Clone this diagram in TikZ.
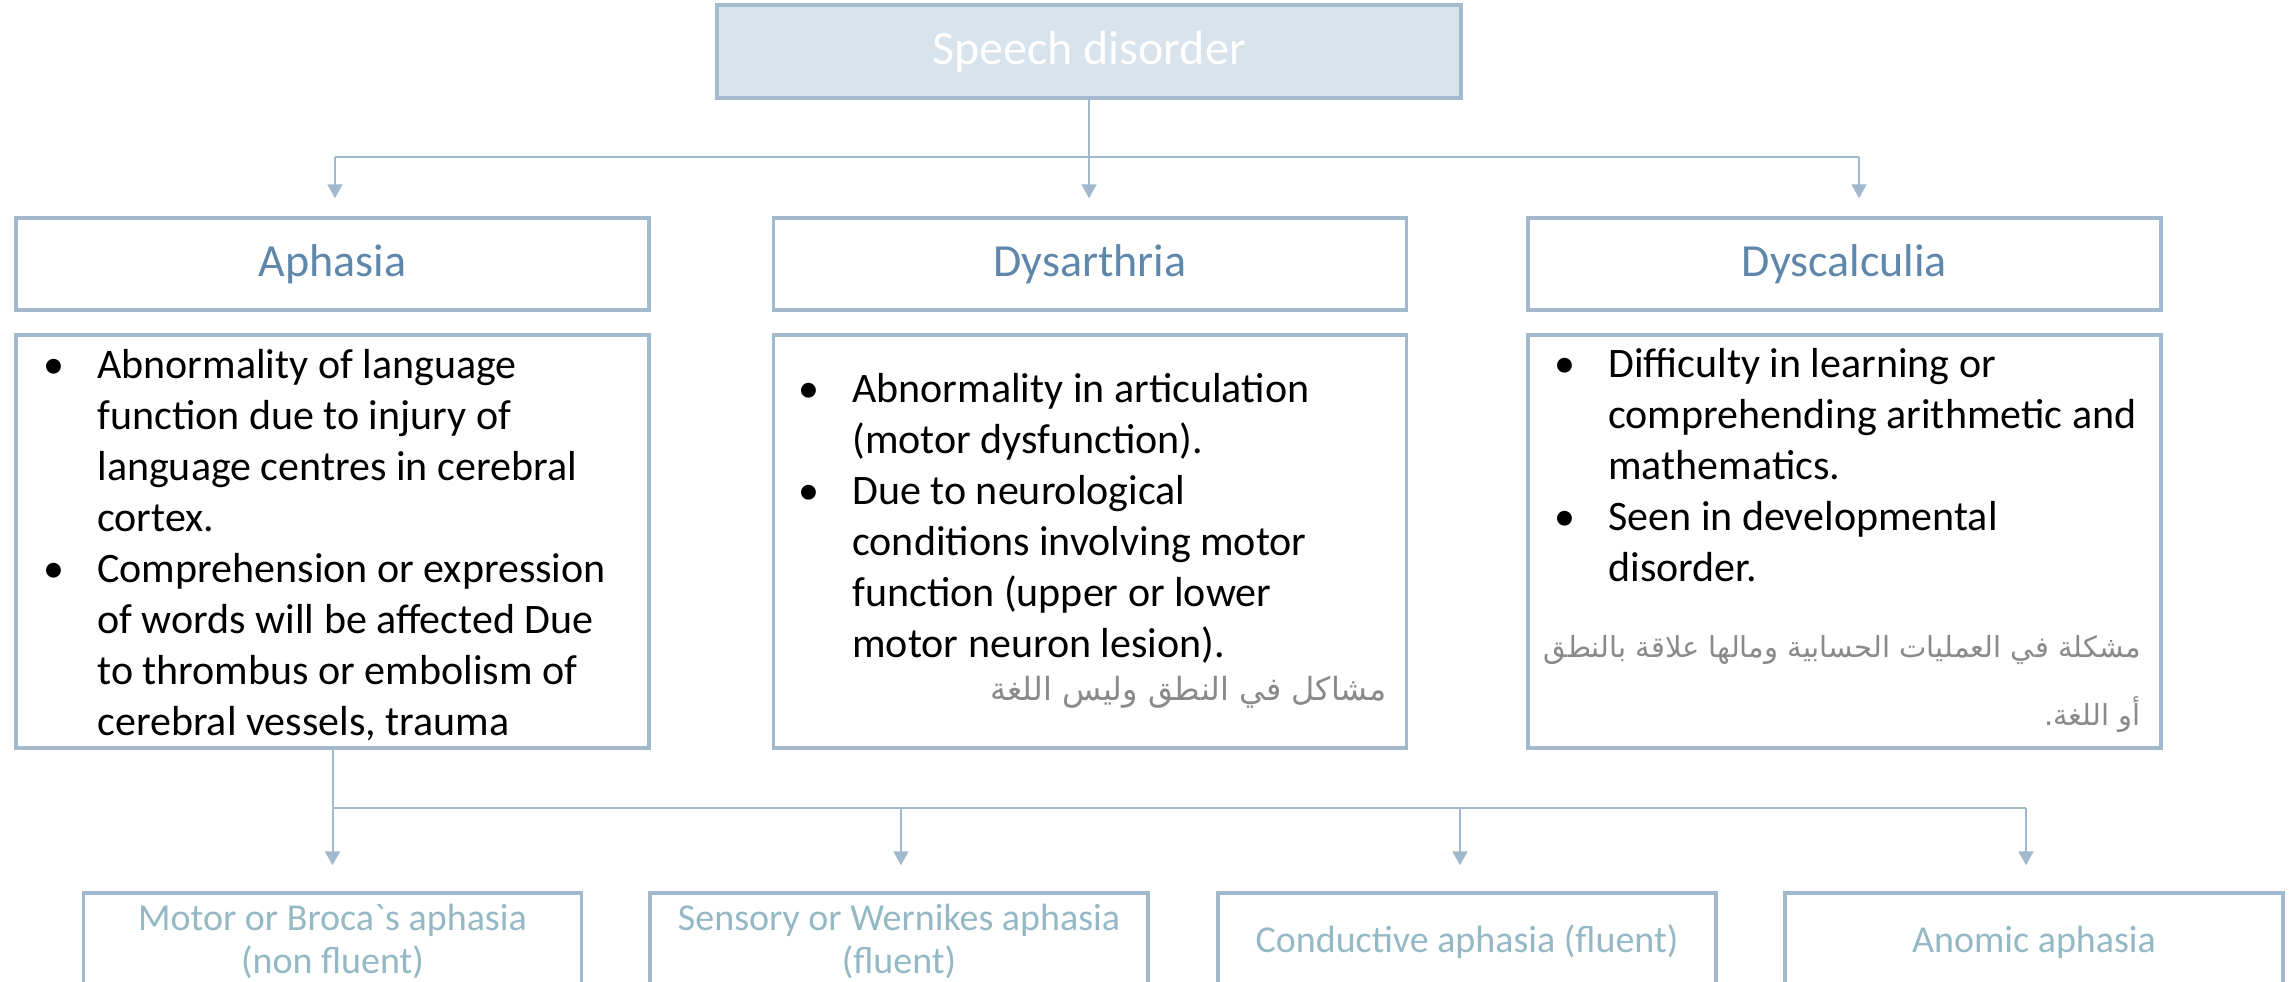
\documentclass[tikz,border=0pt]{standalone}
\usepackage{fontspec}
\setmainfont{Carlito}
\newfontfamily\arabicfont[Script=Arabic]{DejaVu Sans}
\TeXXeTstate=1
\usetikzlibrary{arrows.meta}
\definecolor{cEdge}{HTML}{A2B8CD}
\definecolor{cTopEdge}{HTML}{A4BAD0}
\definecolor{cTopFill}{HTML}{D9E3EC}
\definecolor{cHead}{HTML}{5F87AC}
\definecolor{cLeaf}{HTML}{94B9C5}
\definecolor{cArabic}{HTML}{8A8A8A}
\newcommand\bulitem{\makebox[27pt][l]{\textbullet}}
\newcommand\contline{\hspace*{27pt}}
% a plain grave accent glyph, bypassing the TeX quote mapping
\newcommand\plaingrave{{\XeTeXglyph\XeTeXcharglyph"60\relax}}
\begin{document}
\begin{tikzpicture}[x=0.5pt, y=-0.5pt,
  box/.style={draw=cEdge, line width=1.75pt, fill=white, inner sep=0pt, minimum width=316.5pt},
  titlebox/.style={draw=cTopEdge, fill=cTopFill, line width=1.75pt, inner sep=0pt,
    minimum width=372pt, minimum height=46.5pt, text=white,
    font=\fontsize{24pt}{28pt}\selectfont},
  headbox/.style={box, minimum height=46pt, text=cHead, font=\fontsize{23pt}{27pt}\selectfont},
  descbox/.style={box, minimum height=206.5pt},
  leafbox/.style={box, minimum width=249pt, minimum height=70pt},
  body/.style={align=left, inner sep=0pt, font=\fontsize{21pt}{25.5pt}\selectfont},
  leaflabel/.style={align=center, inner sep=0pt, text=cLeaf, font=\fontsize{19pt}{21.5pt}\selectfont},
  arabic/.style={inner sep=0pt, text=cArabic},
  link/.style={draw=cEdge, line width=1pt},
  arrowlink/.style={link, -{Triangle[width=7.5pt,length=7pt]}},
]
\useasboundingbox (0,0) rectangle (2292,981);
\clip (0,0) rectangle (2292,981);

% root
\node[titlebox] (root) at (1089,51.5) {Speech disorder};

% three disorders
\node[headbox] (aph) at (332.5,264) {Aphasia};
\node[headbox] (dys) at (1090,264) {Dysarthria};
\node[headbox] (dyc) at (1844.5,264) {Dyscalculia};

\node[descbox] (aphd) at (332.5,541.5) {};
\node[descbox] (dysd) at (1090,541.5) {};
\node[descbox] (dycd) at (1844.5,541.5) {};

% text blocks are placed by the baseline of their last line
\node[body, anchor=base west] (apht) at (43,735) {%
\bulitem Abnormality of language\\
\contline function due to injury of\\
\contline language centres in cerebral\\
\contline cortex.\\
\bulitem Comprehension or expression\\
\contline of words will be affected Due\\
\contline to thrombus or embolism of\\
\contline cerebral vessels, trauma};

\node[body, anchor=base west] (dyst) at (798,657) {%
\bulitem Abnormality in articulation\\
\contline (motor dysfunction).\\
\bulitem Due to neurological\\
\contline conditions involving motor\\
\contline function (upper or lower\\
\contline motor neuron lesion).};
\node[arabic, anchor=base east, font=\arabicfont\fontsize{16pt}{20pt}\selectfont] (dysar) at (1387,700)
  {\beginR مشاكل في النطق وليس اللغة\endR};

\node[body, anchor=base west] (dyct) at (1554,581) {%
\bulitem Difficulty in learning or\\
\contline comprehending arithmetic and\\
\contline mathematics.\\
\bulitem Seen in developmental\\
\contline disorder.};
\node[arabic, anchor=base east, font=\arabicfont\fontsize{14.5pt}{18pt}\selectfont] (dycar1) at (2141,657)
  {\beginR مشكلة في العمليات الحسابية ومالها علاقة بالنطق\endR};
\node[arabic, anchor=base east, font=\arabicfont\fontsize{14.5pt}{18pt}\selectfont] (dycar2) at (2141,725)
  {\beginR أو اللغة.\endR};

% aphasia types
\node[leafbox] (motor) at (332.5,963) {};
\node[leafbox] (sens) at (899,963) {};
\node[leafbox] (cond) at (1467,963) {};
\node[leafbox] (anom) at (2034,963) {};
\node[leaflabel, anchor=base] (motorl) at (332.5,973) {Motor or Broca\plaingrave s aphasia\\(non fluent)};
\node[leaflabel, anchor=base] (sensl) at (899,973) {Sensory or Wernikes aphasia\\(fluent)};
\node[leaflabel, anchor=base] (condl) at (1467,952) {Conductive aphasia (fluent)};
\node[leaflabel, anchor=base] (anoml) at (2034,952) {Anomic aphasia};

% upper connectors
\coordinate (busL) at (335,157);
\coordinate (busR) at (1859,157);
\draw[link] (busL) -- (busR);
\draw[arrowlink, shorten >=9pt] (root.south) -- (root.south |- dys.north);
\draw[arrowlink, shorten >=9pt] (busL) -- (busL |- aph.north);
\draw[arrowlink, shorten >=9pt] (busR) -- (busR |- dyc.north);

% lower connectors
\coordinate (bus2) at (332.5,808);
\coordinate (tapS) at (901,808);
\coordinate (tapC) at (1460,808);
\coordinate (tapA) at (2026,808);
\draw[link] (aphd.south) -- (bus2) -- (tapA);
\draw[arrowlink, shorten >=13pt] (bus2) -- (motor.north);
\draw[arrowlink, shorten >=13pt] (tapS) -- (tapS |- sens.north);
\draw[arrowlink, shorten >=13pt] (tapC) -- (tapC |- cond.north);
\draw[arrowlink, shorten >=13pt] (tapA) -- (tapA |- anom.north);
\end{tikzpicture}
\end{document}
